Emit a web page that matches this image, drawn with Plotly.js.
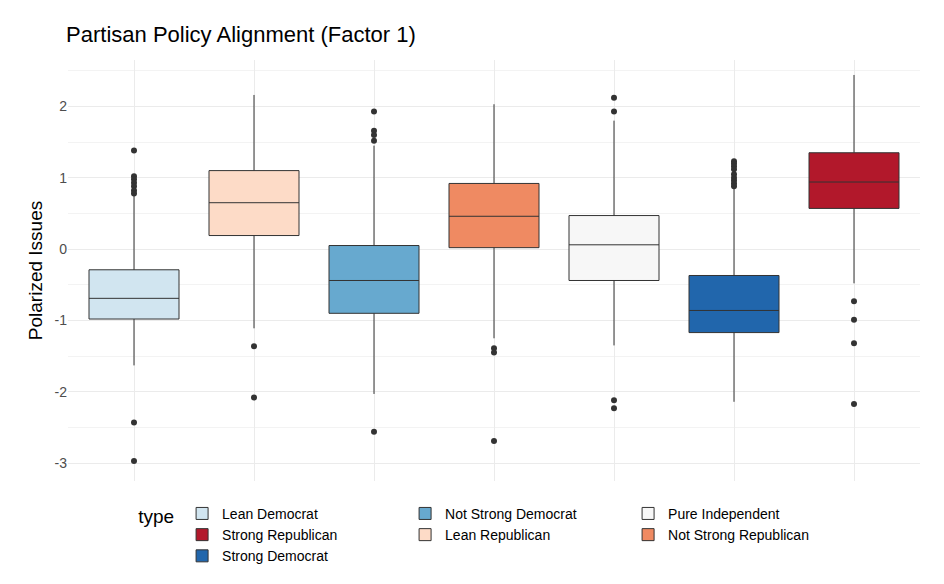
<html><head><script src="https://cdn.plot.ly/plotly-3.0.1.min.js"></script></head><body style="margin:0">
<div id="c" style="width:944px;height:584px"></div>
<script>
const cats=["Lean Democrat","Lean Republican","Not Strong Democrat","Not Strong Republican","Pure Independent","Strong Democrat","Strong Republican"];
const colors=["#d1e5f0","#fddbc7","#67a9cf","#ef8a62","#f7f7f7","#2166ac","#b2182b"];
const q1=[-0.98,0.19,-0.90,0.02,-0.44,-1.17,0.57];
const med=[-0.69,0.65,-0.44,0.46,0.06,-0.86,0.94];
const q3=[-0.29,1.10,0.05,0.92,0.47,-0.37,1.35];
const lo=[-1.63,-1.11,-2.03,-1.25,-1.35,-2.14,-0.48];
const hi=[0.75,2.16,1.45,2.03,1.80,0.86,2.44];
const outliers=[[1.38,1.02,0.98,0.93,0.88,0.82,0.78,-2.43,-2.97],[-1.36,-2.08],[1.93,1.66,1.60,1.52,-2.56],[-1.39,-1.45,-2.69],[2.12,1.93,-2.12,-2.23],[1.23,1.20,1.16,1.12,1.05,1.0,0.96,0.92,0.88],[-0.73,-0.99,-1.32,-2.17]];
const order=[0,2,4,6,1,3,5];
const traces=[];
order.forEach(i=>{
 traces.push({type:'box',name:cats[i],x:[cats[i]],q1:[q1[i]],median:[med[i]],q3:[q3[i]],lowerfence:[lo[i]],upperfence:[hi[i]],
  fillcolor:colors[i],line:{color:'#333333',width:1},whiskerwidth:0,width:0.75,boxpoints:false,hoverinfo:'skip'});
});
cats.forEach((c,i)=>{
 traces.push({type:'scatter',mode:'markers',x:outliers[i].map(()=>c),y:outliers[i],showlegend:false,marker:{color:'#333333',size:6}});
});
Plotly.newPlot('c',traces,{
 width:944,height:584,paper_bgcolor:'white',plot_bgcolor:'white',
 font:{family:'Liberation Sans, Arial',color:'#4d4d4d'},
 title:{text:'Partisan Policy Alignment (Factor 1)',x:0.07,xanchor:'left',y:0.955,font:{size:22,color:'black'}},
 margin:{l:68,r:24,t:60,b:90},
 xaxis:{type:'category',categoryorder:'array',categoryarray:cats,showticklabels:false,showgrid:true,gridcolor:'#ebebeb',zeroline:false,range:[-0.55,6.55]},
 yaxis:{range:[-3.25,2.65],tickvals:[-3,-2,-1,0,1,2],ticktext:['-3','-2','-1','0','1','2'],showgrid:true,gridcolor:'#ebebeb',zeroline:false,
   minor:{dtick:0.5,showgrid:true,gridcolor:'#f3f3f3'},tickfont:{size:14},
   title:{text:'Polarized Issues',font:{size:19,color:'black'},standoff:6}},
 legend:{orientation:'h',x:0.08,xanchor:'left',y:-0.04,yanchor:'top',entrywidth:178,font:{size:14,color:'black'},
   title:{text:'type',side:'left',font:{size:19,color:'black'}}},
 showlegend:true
},{displayModeBar:false});
</script></body></html>
